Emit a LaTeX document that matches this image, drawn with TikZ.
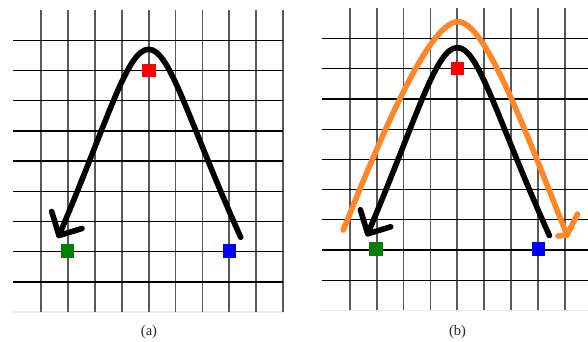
\documentclass[tikz,border=0pt]{standalone}
\usepackage{fontspec}
\setmainfont{Liberation Serif}
\definecolor{orng}{RGB}{255,135,40}
\definecolor{sqgreen}{RGB}{0,128,0}
\begin{document}
\begin{tikzpicture}[x=1pt,y=-1pt,
  vline/.style={draw=black!65, line width=1.8pt},
  hline/.style={draw=black, line width=1.3pt},
  edgeline/.style={draw=black!8, line width=1.5pt},
  stroke/.style={line width=5.6pt, line cap=round, line join=round},
  sq/.style={minimum size=13.5pt, inner sep=0pt, draw=none},
  lab/.style={font=\fontsize{14.5}{16}\selectfont, text=black!85, inner sep=0pt}]
\useasboundingbox (0,0) rectangle (588,342);
\clip (0,0) rectangle (588,342);
% ---------- panel (a) ----------
\draw[edgeline] (13,312) -- (283,312);
\foreach \i in {0,...,9} \draw[vline] ({41+26.9*\i},10) -- ({41+26.9*\i},312);
\foreach \j in {0,...,8} \draw[hline] (13,{40.3+30.2*\j}) -- (283,{40.3+30.2*\j});
\node[sq, fill=red] (ra) at (149,70.3) {};
\node[sq, fill=sqgreen] (ga) at (67.5,250.8) {};
\node[sq, fill=blue] (ba) at (229.7,250.8) {};
\coordinate (sa) at (240.7,237.3);
\coordinate (pa) at (148.7,49.3);
\coordinate (ta) at (59,235.5);
\coordinate (a1) at (51.7,211.5);
\coordinate (a2) at (82,228.5);
\draw[stroke] (sa) .. controls (188,120) and (170,49.3) .. (pa)
  .. controls (127,49.3) and (108.3,119.7) .. (ta);
\draw[stroke] (a1) -- (ta) -- (a2);
\node[lab] (la) at (149,332.5) {(a)};
% ---------- panel (b) ----------
\begin{scope}[shift={(308.7,-1.7)}]
\draw[edgeline] (13,312) -- (283,312);
\foreach \i in {0,...,9} \draw[vline] ({41+26.9*\i},10) -- ({41+26.9*\i},312);
\foreach \j in {0,...,8} \draw[hline] (13,{40.3+30.2*\j}) -- (283,{40.3+30.2*\j});
\node[sq, fill=red] (rb) at (149,70.3) {};
\node[sq, fill=sqgreen] (gb) at (67.5,250.8) {};
\node[sq, fill=blue] (bb) at (229.7,250.8) {};
\coordinate (sb) at (240.7,237.3);
\coordinate (pb) at (148.7,49.3);
\coordinate (tb) at (59,235.5);
\coordinate (b1) at (51.7,211.5);
\coordinate (b2) at (82,228.5);
\draw[stroke] (sb) .. controls (188,120) and (170,49.3) .. (pb)
  .. controls (127,49.3) and (108.3,119.7) .. (tb);
\draw[stroke] (b1) -- (tb) -- (b2);
\end{scope}
% orange curve
\coordinate (os) at (343.3,230);
\coordinate (op) at (458,21.7);
\coordinate (ot) at (567,235);
\coordinate (o1) at (558,236);
\coordinate (o2) at (577.5,214);
\draw[stroke, draw=orng] (os) .. controls (387.3,120) and (431,21.7) .. (op)
  .. controls (485,21.7) and (523,125) .. (ot);
\draw[stroke, draw=orng] (o1) -- (ot) -- (o2);
\node[lab] (lb) at (457.5,332.5) {(b)};
\end{tikzpicture}
\end{document}
